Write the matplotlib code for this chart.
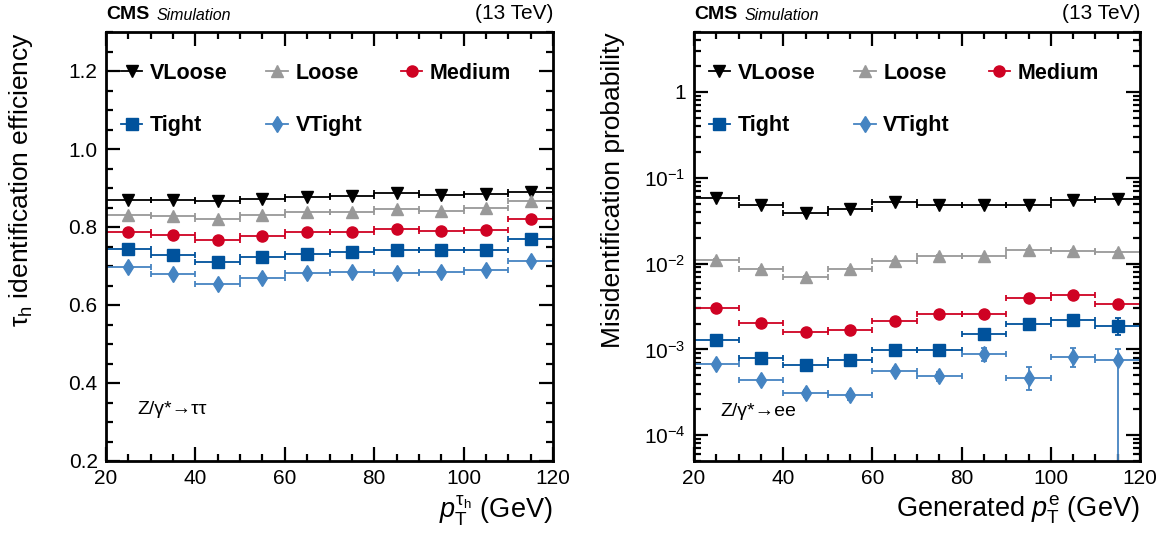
import numpy as np
import matplotlib.pyplot as plt
from matplotlib.lines import Line2D
from matplotlib.ticker import MultipleLocator, LogLocator, FuncFormatter, NullFormatter

plt.rcParams['font.family'] = ['Liberation Sans', 'DejaVu Sans']
plt.rcParams['mathtext.fontset'] = 'custom'
plt.rcParams['mathtext.rm'] = 'Liberation Sans'
plt.rcParams['mathtext.it'] = 'Liberation Sans:italic'
plt.rcParams['mathtext.bf'] = 'Liberation Sans:bold'

# bins in pT (GeV)
pt = [25, 35, 45, 55, 65, 75, 85, 95, 105, 115]
pt_halfwidth = [5] * 10

wps = ['VLoose', 'Loose', 'Medium', 'Tight', 'VTight']
colors = ['#000000', '#999999', '#cf0223', '#00529c', '#4584c2']
markers = ['v', '^', 'o', 's', 'd']

# tau_h identification efficiency, Z -> tautau
eff_vloose = [0.869, 0.868, 0.867, 0.871, 0.876, 0.880, 0.886, 0.882, 0.884, 0.889]
eff_loose = [0.832, 0.827, 0.821, 0.831, 0.838, 0.838, 0.847, 0.840, 0.850, 0.867]
eff_medium = [0.788, 0.779, 0.767, 0.778, 0.788, 0.788, 0.794, 0.791, 0.792, 0.820]
eff_tight = [0.743, 0.728, 0.711, 0.722, 0.730, 0.736, 0.742, 0.741, 0.741, 0.768]
eff_vtight = [0.697, 0.679, 0.655, 0.670, 0.681, 0.685, 0.683, 0.685, 0.690, 0.713]

# e -> tau_h misidentification probability, Z -> ee
mis_vloose = [0.0585, 0.048, 0.039, 0.0433, 0.0517, 0.048, 0.048, 0.048, 0.0545, 0.056]
mis_loose = [0.0110, 0.0086, 0.0069, 0.0086, 0.0108, 0.0123, 0.0121, 0.0144, 0.0141, 0.0138]
mis_medium = [0.00303, 0.00203, 0.00160, 0.00170, 0.00216, 0.00260, 0.00260, 0.00402, 0.00431, 0.00340]
mis_tight = [0.00130, 0.00079, 0.00065, 0.00075, 0.00098, 0.00098, 0.00152, 0.00200, 0.00222, 0.00189]
mis_vtight = [0.00068, 0.00044, 0.00031, 0.00029, 0.00056, 0.00049, 0.00088, 0.00047, 0.00082, 0.00075]

mis_vloose_err = [0.001] * 10
mis_loose_err = [0.0002] * 10
mis_medium_err = [0.00005, 0.00004, 0.00004, 0.00004, 0.00005, 0.00006, 0.00007, 0.00015, 0.00025, 0.00035]
mis_tight_err = [0.00003, 0.00003, 0.00003, 0.00003, 0.00004, 0.00005, 0.00012, 0.00020, 0.00030, 0.00040]
mis_vtight_lo = [0.00003, 0.00003, 0.00003, 0.00003, 0.00005, 0.00006, 0.00015, 0.00013, 0.00020, 0.00075]
mis_vtight_hi = [0.00003, 0.00003, 0.00003, 0.00003, 0.00005, 0.00006, 0.00015, 0.00016, 0.00022, 0.00025]

eff = [eff_vloose, eff_loose, eff_medium, eff_tight, eff_vtight]
mis = [mis_vloose, mis_loose, mis_medium, mis_tight, mis_vtight]
mis_err = [mis_vloose_err, mis_loose_err, mis_medium_err, mis_tight_err,
           [mis_vtight_lo, mis_vtight_hi]]

fig = plt.figure(figsize=(11.69, 5.4), dpi=100)
W, H = 1169., 540.
ax1 = fig.add_axes([106 / W, (540 - 461) / H, 447 / W, 429 / H])
ax2 = fig.add_axes([694 / W, (540 - 461) / H, 446 / W, 429 / H])


def style(ax):
    for s in ax.spines.values():
        s.set_linewidth(2)
    ax.tick_params(which='both', direction='in', top=True, right=True, labelsize=15, width=1.6)
    ax.tick_params(which='major', length=10, pad=6)
    ax.tick_params(which='minor', length=5)
    ax.set_xlim(20, 120)
    ax.xaxis.set_major_locator(MultipleLocator(20))
    ax.xaxis.set_minor_locator(MultipleLocator(5))
    ax.text(0.0, 1.02, 'CMS', transform=ax.transAxes, fontsize=14, fontweight='bold', va='bottom')
    ax.text(0.114, 1.02, 'Simulation', transform=ax.transAxes, fontsize=11.5, style='italic', va='bottom')
    ax.text(1.0, 1.02, '(13 TeV)', transform=ax.transAxes, fontsize=15, ha='right', va='bottom')


def legend(ax):
    handles = [Line2D([], [], color=c, marker=m, ms=8, lw=1.3) for c, m in zip(colors, markers)]
    order = [0, 3, 1, 4, 2]
    ax.legend([handles[i] for i in order], [wps[i] for i in order], ncol=3,
              loc='upper left', bbox_to_anchor=(0.033, 0.928), frameon=False,
              prop={'size': 15.5, 'weight': 'bold'}, handlelength=1.0,
              handletextpad=0.35, columnspacing=1.8, labelspacing=1.45,
              borderpad=0, borderaxespad=0)


# left: efficiency
for y, c, m in zip(eff, colors, markers):
    ax1.errorbar(pt, y, xerr=pt_halfwidth, fmt=m, color=c, ms=8, lw=1.3,
                 capsize=2, capthick=1.3)
style(ax1)
ax1.set_ylim(0.2, 1.3)
ax1.yaxis.set_major_locator(MultipleLocator(0.2))
ax1.yaxis.set_minor_locator(MultipleLocator(0.05))
ax1.yaxis.set_major_formatter(FuncFormatter(lambda v, p: '%.1f' % v))
legend(ax1)
ax1.text(0.07, 0.12, 'Z/γ*→ττ', transform=ax1.transAxes, fontsize=14, va='center')
ax1.set_ylabel(r'τ$_\mathrm{h}$ identification efficiency', fontsize=19, loc='top', labelpad=24)
ax1.set_xlabel(r'$p_\mathrm{T}^{\mathrm{τ}_\mathrm{h}}$ (GeV)', fontsize=19.5, loc='right')

# right: misidentification
for y, e, c, m in zip(mis, mis_err, colors, markers):
    ax2.errorbar(pt, y, xerr=pt_halfwidth, yerr=e, fmt=m, color=c, ms=8, lw=1.3,
                 capsize=2, capthick=1.3)
style(ax2)
ax2.set_yscale('log')
ax2.set_ylim(5e-5, 5)
ax2.yaxis.set_major_locator(LogLocator(base=10, numticks=20))
ax2.yaxis.set_minor_locator(LogLocator(base=10, subs=np.arange(2, 10), numticks=20))
ax2.yaxis.set_minor_formatter(NullFormatter())


def logfmt(v, p):
    if abs(v - 1) < 1e-9:
        return '1'
    return r'$10^{%d}$' % int(round(np.log10(v)))


ax2.yaxis.set_major_formatter(FuncFormatter(logfmt))
legend(ax2)
ax2.text(0.06, 0.116, 'Z/γ*→ee', transform=ax2.transAxes, fontsize=14, va='center')
ax2.set_ylabel('Misidentification probability', fontsize=19, loc='top', labelpad=14)
ax2.set_xlabel(r'Generated $p_\mathrm{T}^\mathrm{e}$ (GeV)', fontsize=19.5, loc='right')

fig.savefig('out.png', dpi=100)
